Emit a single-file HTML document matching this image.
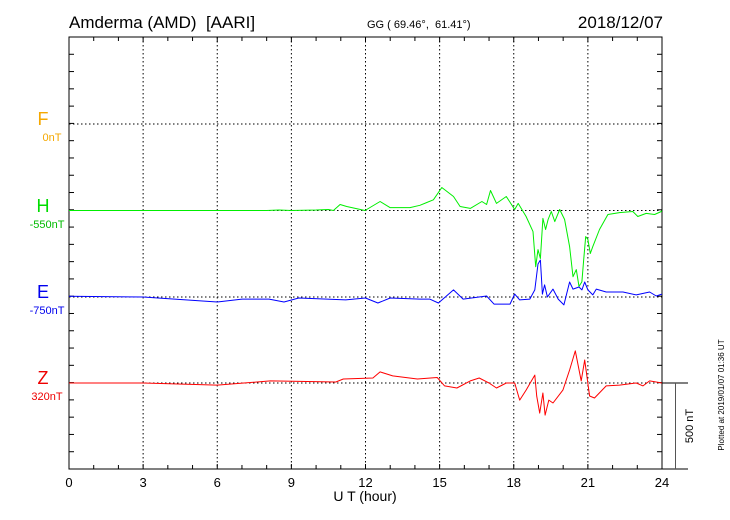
<!DOCTYPE html>
<html><head><meta charset="utf-8"><style>
html,body{margin:0;padding:0;background:#fff;}
svg{display:block;font-family:"Liberation Sans",Arial,sans-serif;}
</style></head><body>
<svg id="chart" width="730" height="520" viewBox="0 0 730 520">
<text x="69" y="28" font-size="17">Amderma (AMD)&#160; [AARI]</text>
<text x="367" y="28" font-size="11">GG ( 69.46°,&#160; 61.41°)</text>
<text x="663" y="28" font-size="17" text-anchor="end">2018/12/07</text>
<defs><clipPath id="plotclip"><rect x="69" y="37" width="593" height="432"/></clipPath></defs>
<g id="grid"></g>
<g id="axes"></g>
<g id="series" clip-path="url(#plotclip)"></g>
<text x="43" y="125" font-size="18" fill="#f5a800" text-anchor="middle">F</text>
<text x="52" y="141" font-size="11" fill="#f5a800" text-anchor="middle">0nT</text>
<text x="43" y="212" font-size="18" fill="#00dd00" text-anchor="middle">H</text>
<text x="47" y="228" font-size="11" fill="#00bb00" text-anchor="middle">-550nT</text>
<text x="43" y="298" font-size="18" fill="#0000ee" text-anchor="middle">E</text>
<text x="47" y="314" font-size="11" fill="#0000ee" text-anchor="middle">-750nT</text>
<text x="43" y="384" font-size="18" fill="#ee0000" text-anchor="middle">Z</text>
<text x="47" y="400" font-size="11" fill="#ee0000" text-anchor="middle">320nT</text>
<text x="365" y="501" font-size="14" text-anchor="middle">U T (hour)</text>
<line x1="662" y1="383" x2="688" y2="383" stroke="#000"/>
<line x1="662" y1="469" x2="688" y2="469" stroke="#000"/>
<line x1="675.5" y1="383" x2="675.5" y2="469" stroke="#555"/>
<text transform="translate(693,426) rotate(-90)" font-size="11" text-anchor="middle">500 nT</text>
<text transform="translate(724,395) rotate(-90)" font-size="8" text-anchor="middle">Plotted at 2019/01/07 01:36 UT</text>
</svg>
<script>
const hHours=[0,2,4,6,8,8.5,9,9.5,10,10.5,10.7,10.97,11.24,11.98,12.59,12.99,13.8,14.2,14.47,14.75,14.95,15.09,15.56,15.83,16.24,16.71,16.9,17.06,17.3,17.7,18.04,18.18,18.5,18.78,18.89,18.98,19.08,19.18,19.29,19.39,19.52,19.66,19.86,20.06,20.26,20.4,20.53,20.64,20.76,20.83,20.91,21.0,21.1,21.2,21.47,21.81,22.28,22.82,23.02,23.36,23.7,23.97,24];
const hValues=[0,0,0,0,0,3,0,2,3,6,0,35,23,0,52,17,17,30,46,62,104,133,81,23,12,52,35,116,41,81,6,41,-35,-122,-325,-226,-278,-46,-110,-52,-6,-64,6,-52,-209,-383,-342,-440,-412,-284,-151,-168,-249,-209,-110,-23,-12,-6,-35,-17,-23,-6,0];
const eHours=[0,3,6,7,8.1,8.7,9.3,11.2,12,12.5,13,14.2,14.6,14.95,15.56,15.95,16.9,17.2,17.85,18.04,18.24,18.65,18.85,18.98,19.08,19.16,19.25,19.36,19.59,19.8,20.03,20.26,20.4,20.64,20.76,20.87,21.0,21.2,21.34,21.74,22.42,22.96,23.5,23.77,24];
const eValues=[4,0,-29,-12,-12,-29,-6,-17,-6,-35,-6,-12,-12,-35,41,-12,6,-41,-41,17,-17,-12,41,191,214,17,70,0,46,-12,-46,87,46,58,41,87,41,12,46,29,29,12,29,6,17];
const zHours=[0,3,6,8.15,10.8,11.1,12.3,12.59,13.1,14.1,14.9,15.2,15.7,16.24,16.6,17.0,17.3,17.7,18.04,18.24,18.5,18.85,18.93,19.05,19.18,19.27,19.42,19.59,19.99,20.26,20.49,20.73,20.87,21.07,21.27,21.74,22.28,22.96,23.23,23.5,24];
const zValues=[0,0,-12,12,6,23,29,64,41,23,32,-17,-29,12,29,0,-29,0,0,-99,-41,46,-75,-174,-58,-186,-99,-116,-41,75,186,12,133,-75,-87,-17,-12,0,-17,12,0];
const xTicks=[0,3,6,9,12,15,18,21,24];

const NS="http://www.w3.org/2000/svg";
const X0=69,X1=662,Y0=37,Y1=469;
const pxPerNT=86.4/500;
function xs(h){return X0+(h/24)*(X1-X0);}
function ys(base,v){return base-v*pxPerNT;}
function mk(tag,attrs,parent){const e=document.createElementNS(NS,tag);for(const k in attrs)e.setAttribute(k,attrs[k]);parent.appendChild(e);return e;}
const grid=document.getElementById('grid'),axes=document.getElementById('axes'),ser=document.getElementById('series');
for(const t of xTicks){
  if(t>0&&t<24){const l=mk('line',{x1:xs(t),y1:Y0,x2:xs(t),y2:Y1,stroke:'#000','stroke-dasharray':'1.5,2.5','stroke-width':1},grid);
  
  }
  const tx=mk('text',{x:xs(t),y:487,'font-size':13,'text-anchor':'middle'},axes);
  tx.textContent=t;
  
  
}
const bases=[124,210.5,297,383];
for(const b of bases){const l=mk('line',{x1:X0,y1:b,x2:X1,y2:b,stroke:'#000','stroke-dasharray':'1.5,2.5'},grid);
  
  }
const fr=mk('rect',{x:X0,y:Y0,width:X1-X0,height:Y1-Y0,fill:'none',stroke:'#000','stroke-width':1},axes);


for(let h=0;h<=24;h++){
  const len=(h%3===0)?5:4;
  mk('line',{x1:xs(h),y1:Y0,x2:xs(h),y2:Y0+len,stroke:'#000'},axes);
  mk('line',{x1:xs(h),y1:Y1,x2:xs(h),y2:Y1-len,stroke:'#000'},axes);
}
for(let y=Y0;y<=Y1+0.1;y+=86.4/5){
  mk('line',{x1:X0,y1:y,x2:X0+5,y2:y,stroke:'#000'},axes);
  mk('line',{x1:X1,y1:y,x2:X1-5,y2:y,stroke:'#000'},axes);
}
function draw(hours,vals,base,color,name){
  let d='';
  for(let i=0;i<hours.length;i++)d+=(i?'L':'M')+xs(hours[i]).toFixed(1)+','+ys(base,vals[i]).toFixed(1);
  const p=mk('path',{d:d,fill:'none',stroke:color,'stroke-width':1,'stroke-linejoin':'round'},ser);
  
  
}
draw(hHours,hValues,210.5,'#00ee00','h-component-line');
draw(eHours,eValues,297,'#0000ff','e-component-line');
draw(zHours,zValues,383,'#ff0000','z-component-line');
</script>
</body></html>
